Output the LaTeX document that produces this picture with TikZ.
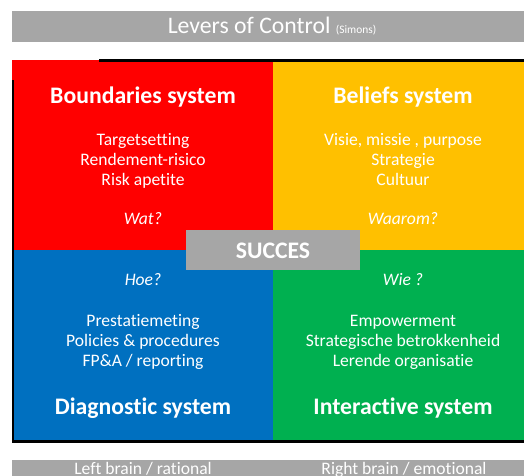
\documentclass[tikz,border=0pt]{standalone}
\usepackage{fontspec}
\setmainfont{Carlito}[Ligatures=NoCommon]
\definecolor{lcred}{HTML}{FF0000}
\definecolor{lcyellow}{HTML}{FFC000}
\definecolor{lcblue}{HTML}{0070C0}
\definecolor{lcgreen}{HTML}{00B050}
\definecolor{lcgray}{HTML}{A6A6A6}

\begin{document}
\begin{tikzpicture}[x=0.02cm, y=-0.02cm,
		every node/.style={text=white, anchor=base, inner sep=0pt},
		head/.style={font=\fontsize{13.5}{16}\selectfont\bfseries},
		item/.style={font=\fontsize{10}{12}\selectfont},
		ask/.style={font=\fontsize{10}{12}\selectfont\itshape}]
		%%%%% START %%%%%
		
		\useasboundingbox (0, 0) rectangle (524, 476);
		
		% title bar
		\fill[lcgray] (12, 11) rectangle (524, 42);
		\node (title) at (272, 33.3) {\fontsize{13.5}{16}\selectfont Levers of Control {\fontsize{6.5}{8}\selectfont (Simons)}};
		
		% quadrants
		\fill[lcyellow] (273, 61) rectangle (524, 250);
		\fill[lcblue] (13, 250) rectangle (273, 441);
		\fill[lcgreen] (273, 250) rectangle (524, 441);
		\fill[lcred] (12, 60) rectangle (273, 250);
		\draw[line width=0.6mm] (99, 61) -- (524, 61);
		\draw[line width=0.6mm] (13, 80) -- (13, 441) -- (524, 441);
		
		% Boundaries
		\node[head] (bnd) at (143, 103.3) {Boundaries system};
		\node[item] (bnd1) at (143, 146) {Targetsetting};
		\node[item] (bnd2) at (143, 166) {Rendement-risico};
		\node[item] (bnd3) at (143, 186) {Risk apetite};
		\node[ask] (bndq) at (143, 225) {Wat?};
		
		% Beliefs
		\node[head] (blf) at (403, 103.3) {Beliefs system};
		\node[item] (blf1) at (403, 146) {Visie, missie , purpose};
		\node[item] (blf2) at (403, 166) {Strategie};
		\node[item] (blf3) at (403, 186) {Cultuur};
		\node[ask] (blfq) at (403, 225) {Waarom?};
		
		% Diagnostic
		\node[ask] (dgnq) at (143, 285) {Hoe?};
		\node[item] (dgn1) at (143, 326) {Prestatiemeting};
		\node[item] (dgn2) at (143, 346) {Policies \& procedures};
		\node[item] (dgn3) at (143, 366) {FP\&A / reporting};
		\node[head] (dgn) at (143, 414) {Diagnostic system};
		
		% Interactive
		\node[ask] (intq) at (403, 285) {Wie ?};
		\node[item] (int1) at (403, 326) {Empowerment};
		\node[item] (int2) at (403, 346) {Strategische betrokkenheid};
		\node[item] (int3) at (403, 366) {Lerende organisatie};
		\node[head] (int) at (403, 414) {Interactive system};
		
		% centre
		\fill[lcgray] (186, 230) rectangle (360, 270);
		\node[head] (succes) at (273, 258.3) {SUCCES};
		
		% bottom bar
		\fill[lcgray] (12, 460) rectangle (524, 476);
		\node[item] (left) at (143, 474) {Left brain / rational};
		\node[item] (right) at (404, 474) {Right brain / emotional};
		
		%%%%% END %%%%%
\end{tikzpicture}
\end{document}
